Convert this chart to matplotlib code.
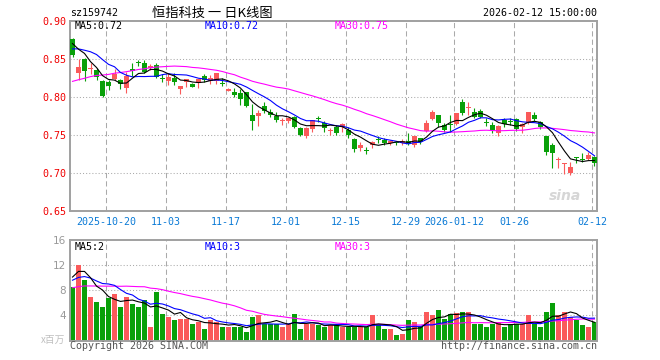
"""Daily K-line chart for sz159742 (HSTECH ETF) with MA lines and volume panel."""
import numpy as np
import pandas as pd
import matplotlib
matplotlib.use("Agg")
import matplotlib.pyplot as plt

# ---- data (2025-10-10 .. 2026-02-12, 88 sessions) ----
OPEN = [
    0.8760, 0.8318, 0.8493, 0.8370, 0.8354, 0.8209, 0.8200, 0.8235, 0.8222, 0.8113,
    0.8362, 0.8458, 0.8441, 0.8375, 0.8419, 0.8238, 0.8213, 0.8244, 0.8100, 0.8192,
    0.8170, 0.8178, 0.8280, 0.8213, 0.8213, 0.8172, 0.8082, 0.8064, 0.8055, 0.8068,
    0.7755, 0.7750, 0.7885, 0.7797, 0.7749, 0.7681, 0.7688, 0.7740, 0.7587, 0.7487,
    0.7574, 0.7722, 0.7662, 0.7553, 0.7610, 0.7597, 0.7566, 0.7444, 0.7326, 0.7299,
    0.7369, 0.7439, 0.7435, 0.7391, 0.7395, 0.7391, 0.7422, 0.7369, 0.7457, 0.7557,
    0.7710, 0.7763, 0.7632, 0.7636, 0.7641, 0.7929, 0.7859, 0.7797, 0.7819, 0.7666,
    0.7631, 0.7522, 0.7697, 0.7679, 0.7705, 0.7600, 0.7662, 0.7762, 0.7666, 0.7487,
    0.7368, 0.7168, 0.7115, 0.7005, 0.7198, 0.7184, 0.7180, 0.7215,
]
HIGH = [
    0.8770, 0.8493, 0.8507, 0.8441, 0.8375, 0.8222, 0.8222, 0.8367, 0.8235, 0.8332,
    0.8441, 0.8485, 0.8485, 0.8428, 0.8441, 0.8301, 0.8310, 0.8310, 0.8144, 0.8235,
    0.8187, 0.8231, 0.8301, 0.8287, 0.8318, 0.8243, 0.8115, 0.8112, 0.8099, 0.8068,
    0.7902, 0.7828, 0.7937, 0.7837, 0.7806, 0.7718, 0.7740, 0.7749, 0.7609, 0.7609,
    0.7697, 0.7749, 0.7688, 0.7587, 0.7632, 0.7654, 0.7601, 0.7457, 0.7413, 0.7347,
    0.7426, 0.7487, 0.7457, 0.7435, 0.7413, 0.7444, 0.7531, 0.7487, 0.7465, 0.7697,
    0.7829, 0.7763, 0.7654, 0.7763, 0.7794, 0.7969, 0.7937, 0.7850, 0.7837, 0.7718,
    0.7675, 0.7631, 0.7718, 0.7718, 0.7718, 0.7662, 0.7797, 0.7806, 0.7688, 0.7487,
    0.7399, 0.7207, 0.7128, 0.7145, 0.7215, 0.7259, 0.7281, 0.7224,
]
LOW = [
    0.8528, 0.8222, 0.8213, 0.8301, 0.8222, 0.7995, 0.8091, 0.8222, 0.8100, 0.8056,
    0.8275, 0.8406, 0.8318, 0.8354, 0.8244, 0.8200, 0.8157, 0.8157, 0.8034, 0.8126,
    0.8126, 0.8113, 0.8196, 0.8169, 0.8169, 0.8143, 0.8070, 0.8003, 0.7893, 0.7872,
    0.7565, 0.7618, 0.7784, 0.7740, 0.7675, 0.7631, 0.7653, 0.7587, 0.7487, 0.7456,
    0.7544, 0.7675, 0.7544, 0.7500, 0.7500, 0.7544, 0.7465, 0.7269, 0.7282, 0.7251,
    0.7326, 0.7391, 0.7369, 0.7369, 0.7369, 0.7369, 0.7369, 0.7347, 0.7382, 0.7544,
    0.7697, 0.7601, 0.7544, 0.7544, 0.7632, 0.7763, 0.7762, 0.7718, 0.7718, 0.7618,
    0.7530, 0.7487, 0.7609, 0.7631, 0.7557, 0.7530, 0.7644, 0.7688, 0.7574, 0.7237,
    0.7071, 0.7062, 0.6988, 0.6975, 0.7128, 0.7150, 0.7172, 0.7093,
]
CLOSE = [
    0.8550, 0.8397, 0.8345, 0.8378, 0.8257, 0.8017, 0.8144, 0.8301, 0.8170, 0.8275,
    0.8336, 0.8450, 0.8332, 0.8410, 0.8266, 0.8232, 0.8266, 0.8192, 0.8144, 0.8235,
    0.8135, 0.8231, 0.8226, 0.8243, 0.8309, 0.8166, 0.8102, 0.8029, 0.7968, 0.7880,
    0.7688, 0.7793, 0.7810, 0.7767, 0.7697, 0.7688, 0.7718, 0.7609, 0.7500, 0.7587,
    0.7697, 0.7714, 0.7587, 0.7561, 0.7531, 0.7641, 0.7500, 0.7312, 0.7369, 0.7291,
    0.7413, 0.7431, 0.7391, 0.7422, 0.7387, 0.7422, 0.7382, 0.7487, 0.7400, 0.7662,
    0.7807, 0.7654, 0.7566, 0.7628, 0.7794, 0.7794, 0.7867, 0.7740, 0.7732, 0.7658,
    0.7565, 0.7618, 0.7644, 0.7671, 0.7574, 0.7644, 0.7797, 0.7705, 0.7600, 0.7281,
    0.7259, 0.7176, 0.7123, 0.7084, 0.7190, 0.7176, 0.7237, 0.7128,
]
VOLUME = [  # x 1,000,000
    8.5, 12.0, 9.6, 7.0, 6.2, 5.4, 6.8, 7.4, 5.3, 6.9,
    5.8, 5.4, 6.4, 2.2, 7.7, 4.2, 3.7, 3.2, 3.5, 3.5,
    2.6, 2.9, 1.8, 3.2, 2.9, 2.2, 2.2, 2.2, 2.2, 1.4,
    3.8, 4.0, 2.7, 2.7, 2.7, 2.2, 2.6, 4.2, 1.9, 2.7,
    2.7, 2.4, 2.1, 2.4, 2.4, 2.2, 2.1, 2.2, 2.2, 2.1,
    4.0, 2.7, 1.8, 1.8, 0.8, 1.0, 3.2, 2.9, 2.1, 4.5,
    4.0, 4.8, 3.4, 4.2, 4.3, 4.5, 4.6, 2.7, 2.6, 2.2,
    2.7, 2.9, 2.2, 2.6, 2.6, 2.7, 4.0, 2.7, 2.2, 4.5,
    5.9, 4.0, 4.5, 3.8, 3.2, 2.4, 2.2, 2.9,
]
# sessions before the visible window (not drawn), estimated from where the
# MA curves start so the moving averages line up at the left edge
PRE_CLOSE = [
    0.775, 0.778, 0.772, 0.780, 0.785, 0.790, 0.783, 0.788, 0.795, 0.792,
    0.800, 0.805, 0.798, 0.803, 0.810, 0.812, 0.808, 0.825, 0.835, 0.845,
    0.840, 0.852, 0.858, 0.862, 0.868, 0.877, 0.862, 0.892, 0.864,
]
PRE_VOLUME = [
    6.8, 6.2, 7.1, 6.5, 5.9, 6.9, 7.4, 6.0, 6.3, 7.0,
    6.6, 6.8, 8.8, 10.2, 9.1, 11.0, 9.5, 8.7, 10.4, 8.8,
    7.6, 8.2, 9.4, 10.8, 9.5, 7.5, 9.6, 12.0, 12.9,
]
TICK_DATES = ["2025-10-20", "2025-11-03", "2025-11-17", "2025-12-01", "2025-12-15",
              "2025-12-29", "2026-01-12", "2026-01-26", "2026-02-12"]
TICK_LABELS = ["2025-10-20", "11-03", "11-17", "12-01", "12-15",
               "12-29", "2026-01-12", "01-26", "02-12"]
HOLIDAYS = ["2026-01-01", "2026-01-02"]

CODE = "sz159742"
NAME = "恒指科技 一 日K线图"
STAMP = "2026-02-12 15:00:00"

RED = "#fa5a5a"
GREEN = "#09a009"
GRID = "#aaaaaa"
FRAME = "#a0a0a0"
MONO = "DejaVu Sans Mono"
CJK = ["Noto Sans CJK SC", "DejaVu Sans"]

W, H = 660, 360


def px(x, y):
    return x / W, 1 - y / H


def ma(pre, vals, n):
    s = pd.Series(pre + vals, dtype=float)
    return s.rolling(n).mean().iloc[len(pre):].to_numpy()


def style_axes(ax, xpos):
    for sp in ax.spines.values():
        sp.set_color(FRAME)
        sp.set_linewidth(1.4)
    for xp in xpos:
        ax.axvline(xp, color=GRID, lw=0.75, ls=(0, (5, 3)), zorder=0)
    ax.set_xlim(-0.417, 87.42)
    ax.tick_params(length=0)


def main():
    dates = pd.bdate_range("2025-10-10", "2026-02-12")
    dates = dates[~dates.isin(pd.to_datetime(HOLIDAYS))]
    x = np.arange(len(dates))
    o, h, l, c = map(np.array, (OPEN, HIGH, LOW, CLOSE))
    up = c >= o
    cols = np.where(up, RED, GREEN)
    xpos = [dates.get_loc(pd.Timestamp(d)) - 0.37 for d in TICK_DATES]

    ma5, ma10, ma30 = (ma(PRE_CLOSE, CLOSE, n) for n in (5, 10, 30))
    v5, v10, v30 = (ma(PRE_VOLUME, VOLUME, n) for n in (5, 10, 30))

    fig = plt.figure(figsize=(W / 100, H / 100), dpi=100)

    # === price panel ===
    ax = fig.add_axes([70 / W, 1 - 211 / H, 527 / W, 190.3 / H])
    style_axes(ax, xpos)
    ax.set_ylim(0.65, 0.90)
    for yv in (0.70, 0.75, 0.80, 0.85):
        ax.axhline(yv, color=GRID, lw=0.75, ls=(0, (1, 2)), zorder=0)
    ax.vlines(x, l, h, colors=cols, lw=0.8, zorder=2)
    body = np.maximum(np.abs(c - o), 0.0013)
    ax.bar(x, body, bottom=np.minimum(o, c), width=5 / 6, color=cols, lw=0, zorder=3)
    ax.plot(x, ma30, color="#ff00ff", lw=0.8, zorder=4)
    ax.plot(x, ma10, color="#0000ff", lw=0.8, zorder=4)
    ax.plot(x, ma5, color="black", lw=0.8, zorder=5)
    ax.set_yticks([0.65, 0.70, 0.75, 0.80, 0.85, 0.90])
    ax.set_yticklabels([f"{v:.2f}" for v in ax.get_yticks()],
                       family=MONO, fontsize=7.2, color="#f00000")
    ax.tick_params(axis="y", pad=2.5)
    ax.set_xticks(xpos)
    ax.set_xticklabels(TICK_LABELS, family=MONO, fontsize=7.2, color="#0a7ad6")
    ax.tick_params(axis="x", pad=4.2)
    ax.text(0.94, 0.06, "sina", transform=ax.transAxes, fontsize=10,
            fontweight="bold", style="italic", color="#d6d6d6", ha="center", zorder=1)

    # === volume panel ===
    av = fig.add_axes([70 / W, 1 - 340.5 / H, 527 / W, 100.5 / H])
    style_axes(av, xpos)
    av.set_ylim(0, 16)
    for yv in (4, 8, 12):
        av.axhline(yv, color=GRID, lw=0.75, ls=(0, (1, 2)), zorder=0)
    av.bar(x, VOLUME, width=5 / 6, color=cols, lw=0, zorder=2)
    av.plot(x, v30, color="#ff00ff", lw=0.8, zorder=4)
    av.plot(x, v10, color="#0000ff", lw=0.8, zorder=4)
    av.plot(x, v5, color="black", lw=0.8, zorder=5)
    av.set_yticks([4, 8, 12, 16])
    av.set_yticklabels(["4", "8", "12", "16"], fontsize=7.5, color="#999999")
    av.tick_params(axis="y", pad=3)
    av.set_xticks([])

    # === texts ===
    fig.text(*px(70, 13), CODE, family=MONO, fontsize=7.2, va="center")
    fig.text(*px(152, 13), NAME, family=CJK, fontsize=9.5, va="center")
    fig.text(*px(597, 13), STAMP, family=MONO, fontsize=7.2, va="center", ha="right")
    fig.text(*px(75, 26), f"MA5:{ma5[-1]:.2f}", family=MONO, fontsize=7.2, va="center")
    fig.text(*px(205, 26), f"MA10:{ma10[-1]:.2f}", family=MONO, fontsize=7.2,
             va="center", color="#0000ff")
    fig.text(*px(335, 26), f"MA30:{ma30[-1]:.2f}", family=MONO, fontsize=7.2,
             va="center", color="#ff00ff")
    fig.text(*px(75, 247), f"MA5:{int(v5[-1])}", family=MONO, fontsize=7.2, va="center")
    fig.text(*px(205, 247), f"MA10:{int(v10[-1])}", family=MONO, fontsize=7.2,
             va="center", color="#0000ff")
    fig.text(*px(335, 247), f"MA30:{int(v30[-1])}", family=MONO, fontsize=7.2,
             va="center", color="#ff00ff")
    fig.text(*px(65, 340), "x百万", family=CJK, fontsize=7, va="center", ha="right",
             color="#c0c0c0")
    fig.text(*px(70, 346), "Copyright 2026 SINA.COM", family=MONO, fontsize=7.2,
             va="center", color="#555555")
    fig.text(*px(597, 346), "http://finance.sina.com.cn", family=MONO, fontsize=7.2,
             va="center", ha="right", color="#555555")

    fig.savefig("out.png", dpi=100)
    plt.close(fig)


if __name__ == "__main__":
    main()
